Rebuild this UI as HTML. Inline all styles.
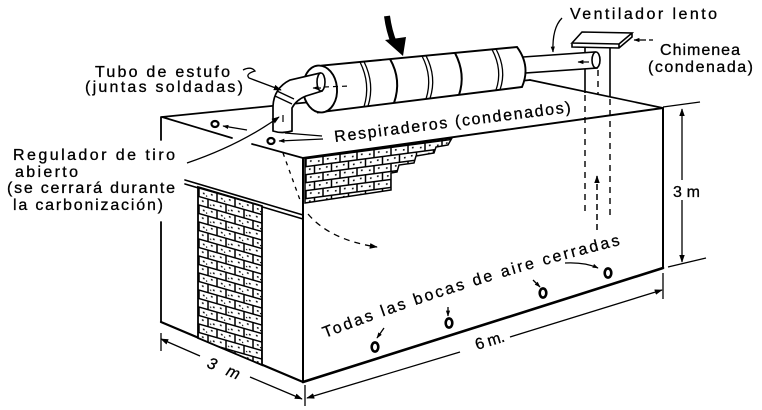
<!DOCTYPE html>
<html><head><meta charset="utf-8">
<style>
html,body{margin:0;padding:0;background:#fff;}
svg{display:block;}
text{font-family:"Liberation Sans",sans-serif;font-size:16px;fill:#000;stroke:#000;stroke-width:0.3;}
</style></head><body>
<svg width="762" height="410" viewBox="0 0 762 410" xmlns="http://www.w3.org/2000/svg">
<defs>
<pattern id="bl" width="18" height="17" patternUnits="userSpaceOnUse" patternTransform="translate(198,187) skewY(16)">
<rect width="18" height="17" fill="#fff"/>
<path d="M0,.7H18M0,9.2H18M1,0V9M10,8.5V17" stroke="#000" stroke-width="1.5" fill="none"/>
<path d="M5,4h1.6v1.6h-1.6zM13,3h1.6v1.6h-1.6zM4,12h1.6v1.6h-1.6zM15,13h1.6v1.6h-1.6zM8,6h1.2v1.2h-1.2zM12,14h1.2v1.2h-1.2z"/>
</pattern>
<pattern id="bt" width="17" height="16" patternUnits="userSpaceOnUse" patternTransform="translate(305,158) skewY(-7.5)">
<rect width="17" height="16" fill="#fff"/>
<path d="M0,.7H17M0,8.7H17M1,0V8M9.5,8V16" stroke="#000" stroke-width="1.5" fill="none"/>
<path d="M5,3h1.6v1.6h-1.6zM13,4h1.6v1.6h-1.6zM4,11h1.6v1.6h-1.6zM14,12h1.6v1.6h-1.6z"/>
</pattern>
<marker id="a" viewBox="0 0 10 10" refX="9" refY="5" markerWidth="8" markerHeight="8" markerUnits="userSpaceOnUse" orient="auto-start-reverse"><path d="M0,1.5L10,5L0,8.5z"/></marker>
<marker id="s" viewBox="0 0 10 10" refX="9" refY="5" markerWidth="6" markerHeight="6" markerUnits="userSpaceOnUse" orient="auto-start-reverse"><path d="M0,1.5L10,5L0,8.5z"/></marker>
</defs>
<rect width="762" height="410" fill="#fff"/>

<g fill="none" stroke="#000" stroke-linecap="round">
<path d="M162,117 L530,80" stroke-width="1.7"/>
<path d="M530,80 L663,108" stroke-width="1.7"/>
<path d="M303,158 L663,108" stroke-width="1.9"/>
<path d="M162,117 L232,138 M252,144 L303,158" stroke-width="1.7"/>
<path d="M161,117 V140 M161,222 V322" stroke-width="1.8"/>
<path d="M161,322 L303,382" stroke-width="2.2"/>
<path d="M303,158 V382" stroke-width="2"/>
<path d="M303,382 L663,268" stroke-width="2.6"/>
<path d="M663,108 V268" stroke-width="2"/>
<path d="M185,180 L303,215 M185,184 L303,219" stroke-width="1.6"/>
</g>

<polygon points="198,187 262,206 262,365 198,338" fill="url(#bl)" stroke="#000" stroke-width="1.8"/>
<polygon points="305,158 452,138 448,145 436,147 434,153 416,156 414,163 399,165 397,172 391,173 391,190 305,203" fill="url(#bt)" stroke="#000" stroke-width="1.5"/>

<g fill="none" stroke="#000">
<path d="M585,48 V93 M610,47 V97" stroke-width="1.6"/>
<path d="M585,95 V213 M610,99 V220 M598,70 V95" stroke-width="1.4" stroke-dasharray="6,5"/>
<path d="M597,230 V176" stroke-width="1.5" stroke-dasharray="6,4" marker-end="url(#a)"/>
<path d="M572,43 L582,32 L632,33 L619,44 Z M572,43 L572,47 L619,48 L632,37 L632,33 M619,44 V48" fill="#fff" stroke-width="1.6"/>
<path d="M523,57 L595,52 L597,68 L525,73 Z" fill="#fff" stroke-width="1.6"/>
<ellipse cx="596" cy="60" rx="4" ry="8" fill="#fff" stroke-width="1.6"/>
<path d="M589,62 L578,62" stroke-width="1.2" marker-end="url(#s)"/>
<path d="M322,65.6 L517,47 Q531,66 522,87 L318,112.4 Z" fill="#fff" stroke-width="1.9"/>
<path d="M360,62 Q371,84 364,106.7 M364,61.6 Q375,84 368,106.2" stroke-width="1.3"/>
<path d="M390,59 Q402,80 394,103" stroke-width="2"/>
<path d="M422,56 Q433,77 426,99 M426,55.7 Q437,77 430,98.5" stroke-width="1.3"/>
<path d="M455,53 Q466,74 459,95" stroke-width="2"/>
<path d="M492,49.4 Q503,70 496,90 M496,49 Q507,70 500,89.7" stroke-width="1.3"/>
<ellipse cx="320" cy="89" rx="17" ry="23.5" transform="rotate(-5 320 89)" fill="#fff" stroke-width="1.9"/>
<path d="M324,87 L350,86" stroke-width="1.2" stroke-dasharray="5,4"/>
<path d="M273,131 L273,106 Q274,88 290,80 L320,73 L322,91 L306,96 Q296,100 292,108 L292,131 Q282,134 273,131 Z" fill="#fff" stroke-width="1.7"/>
<ellipse cx="321" cy="82" rx="4" ry="9" fill="#fff" stroke-width="1.6"/>
<path d="M277,91 L294,99 M275,96 L292,104" stroke-width="1.4"/>
<path d="M283,115 V122" stroke-width="1.2"/>
<path d="M321,88 L313,88" stroke-width="1.2" marker-end="url(#s)"/>
</g>

<path d="M387,16 Q389,31 394,43" fill="none" stroke="#000" stroke-width="6"/>
<polygon points="385,40 406,37 403,56" fill="#000"/>

<g fill="none" stroke="#000" stroke-width="1.3">
<ellipse cx="215" cy="124" rx="3.5" ry="3" stroke-width="2.2"/>
<path d="M247,130 L223,126" marker-end="url(#s)"/>
<ellipse cx="271" cy="141" rx="3.5" ry="3" stroke-width="2.2"/>
<path d="M323,139 L279,141" marker-end="url(#s)"/>
<path d="M285,133 L322,136"/>
<path d="M283,153 L300,200" stroke-dasharray="4,5"/>
<path d="M308,214 Q330,240 377,247" stroke-dasharray="6,5" marker-end="url(#a)"/>
<path d="M187,163 Q240,145 279,117" marker-end="url(#a)"/>
<path d="M243,70 q8,-4 12,1 q-10,3 -6,7 L281,90" marker-end="url(#a)"/>
<path d="M562,18 Q552,28 553,52" marker-end="url(#s)"/>
<path d="M646,40 L634,40" marker-end="url(#s)"/>
<path d="M649,40 L653,40"/>
<path d="M663,107 L700,102"/>
<path d="M682,180 V109" marker-end="url(#a)"/>
<path d="M682,200 V262" marker-end="url(#a)"/>
<path d="M668,267 L706,258"/>
<path d="M460,352 L307,398" marker-end="url(#a)"/>
<path d="M510,337 L662,290" marker-end="url(#a)"/>
<path d="M663,273 V299 M305,385 V406"/>
<path d="M200,356 L161,339" marker-end="url(#a)"/>
<path d="M250,377 L302,399" marker-end="url(#a)"/>
<path d="M161,333 V351"/>
<g stroke-width="2.6">
<ellipse cx="375" cy="347" rx="3.3" ry="4.6"/>
<ellipse cx="449" cy="323" rx="3.3" ry="4.6"/>
<ellipse cx="543" cy="293" rx="3.3" ry="4.6"/>
<ellipse cx="608" cy="273" rx="3.3" ry="4.6"/>
</g>
<path d="M384,328 L377,338" marker-end="url(#s)"/>
<path d="M448,307 V316" marker-end="url(#s)"/>
<path d="M533,280 L540,287" marker-end="url(#s)"/>
<path d="M565,263 Q585,262 598,268" marker-end="url(#s)"/>
</g>

<text x="570" y="19" textLength="147" lengthAdjust="spacing">Ventilador lento</text>
<text x="660" y="55" textLength="80" lengthAdjust="spacing">Chimenea</text>
<text x="648" y="72" textLength="105" lengthAdjust="spacing">(condenada)</text>
<text x="95" y="77" textLength="135" lengthAdjust="spacing">Tubo de estufo</text>
<text x="85" y="92" textLength="158" lengthAdjust="spacing">(juntas soldadas)</text>
<text x="13" y="160" textLength="162" lengthAdjust="spacing">Regulador de tiro</text>
<text x="15" y="177" textLength="63" lengthAdjust="spacing">abierto</text>
<text x="7" y="193" textLength="168" lengthAdjust="spacing">(se cerrará durante</text>
<text x="13" y="210" textLength="150" lengthAdjust="spacing">la carbonización)</text>
<text transform="translate(335,142) rotate(-7.2)" font-size="15" textLength="238" lengthAdjust="spacing">Respiraderos (condenados)</text>
<text x="673" y="197" textLength="27" lengthAdjust="spacing">3 m</text>
<path id="tp" d="M325,338 Q470,282 628,243" fill="none"/>
<text textLength="310" lengthAdjust="spacing"><textPath href="#tp">Todas las bocas de aire cerradas</textPath></text>
<text transform="translate(477,350) rotate(-17)" textLength="30" lengthAdjust="spacing">6 m.</text>
<text transform="translate(206,367) rotate(22)" font-style="italic" textLength="34" lengthAdjust="spacing">3 m</text>
</svg>
</body></html>
